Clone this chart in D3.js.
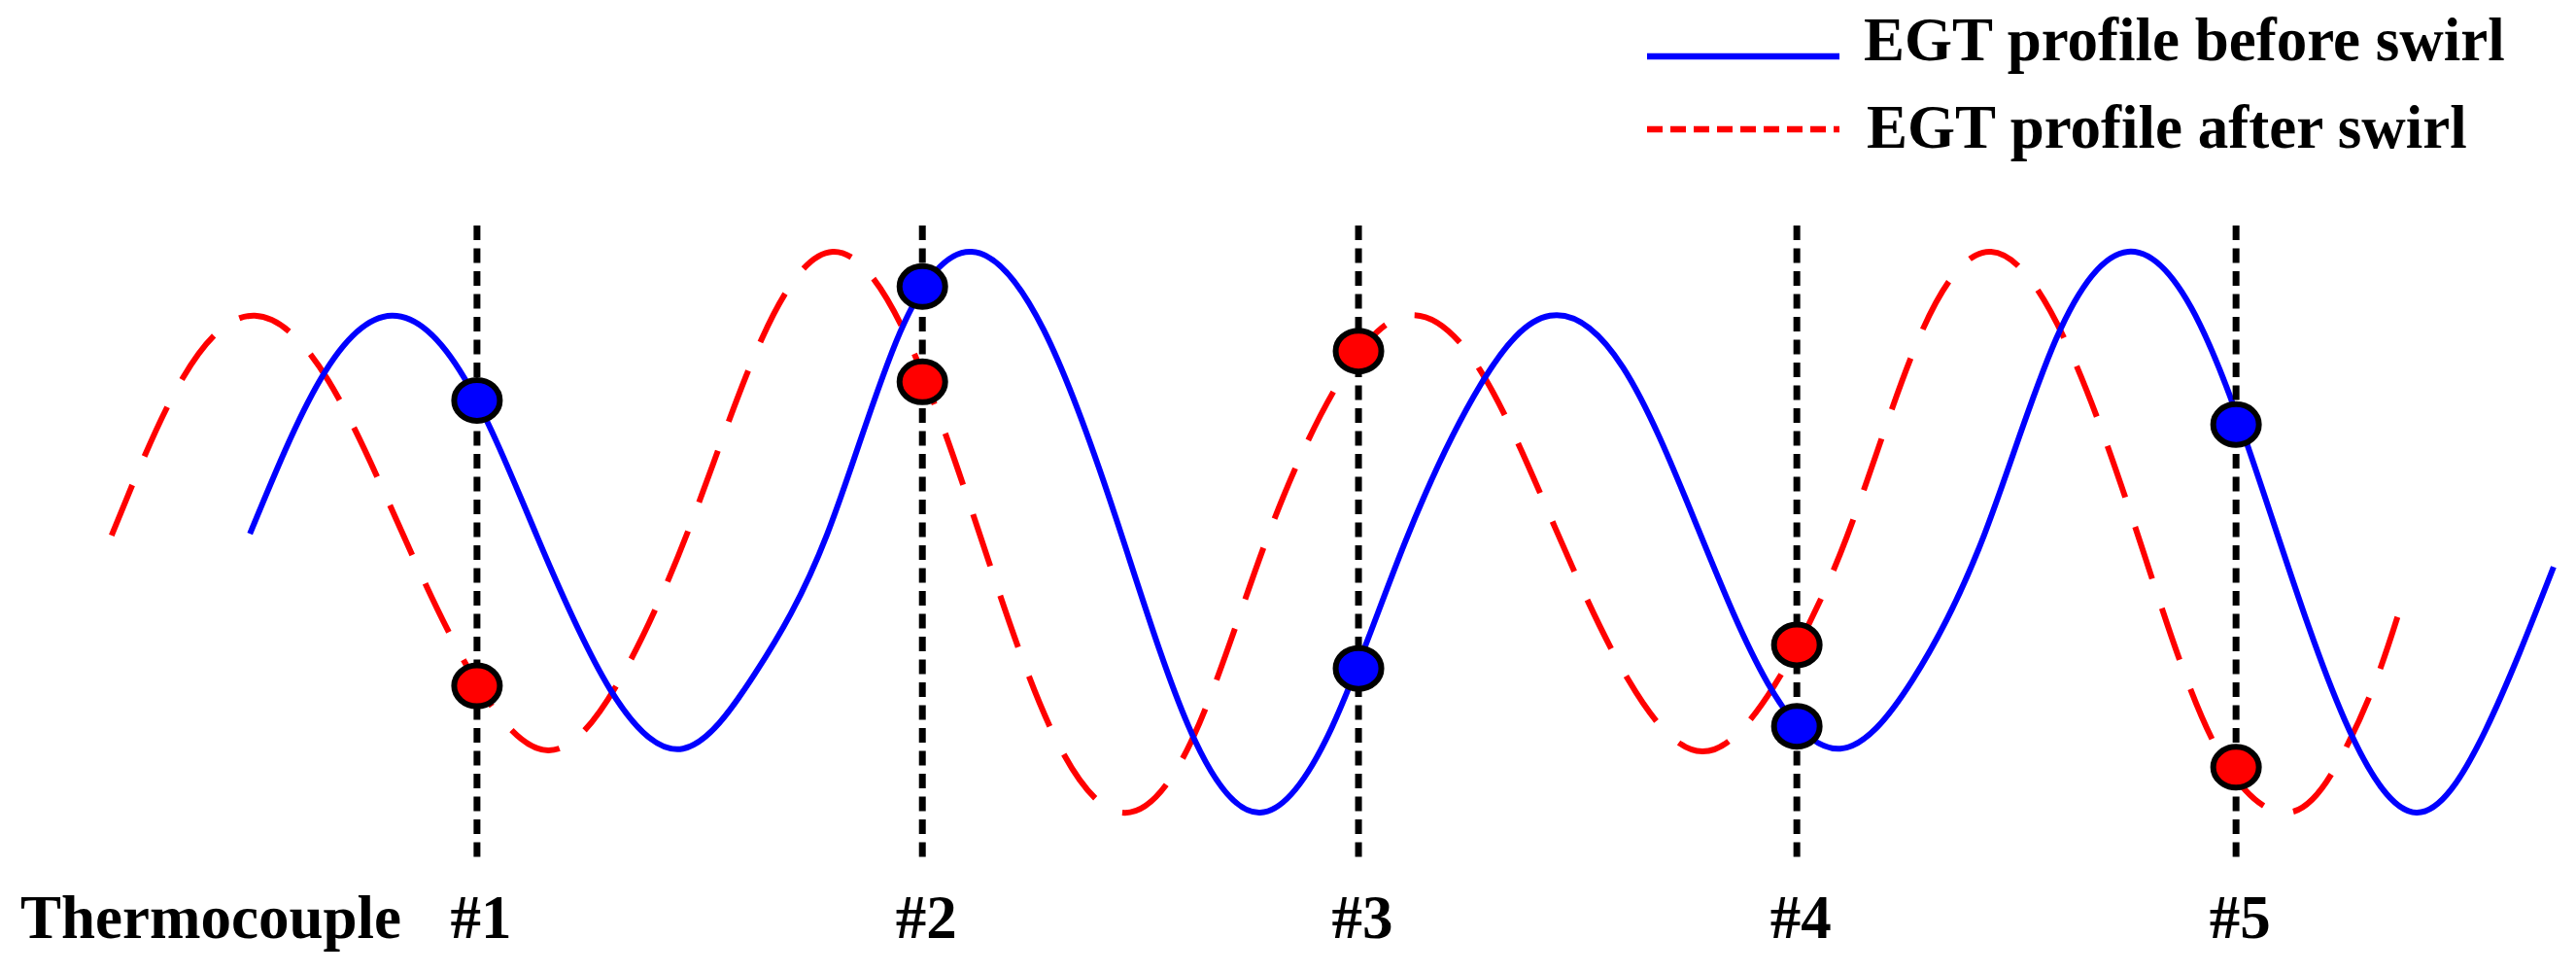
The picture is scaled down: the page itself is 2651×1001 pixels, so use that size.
<!DOCTYPE html>
<html>
<head>
<meta charset="utf-8">
<script src="https://cdn.jsdelivr.net/npm/d3@7"></script>
<style>
  body { margin: 0; background: #fff; }
  text { font-family: "Liberation Serif", "Times New Roman", serif; font-weight: bold; fill: #000; }
</style>
</head>
<body>
<div id="egtChart"></div>
<script>
// thermocouple positions, in units of thermocouple spacing
var tcPos = [0.994, 2.008, 3.001, 3.999, 4.999];
var tcLabels = ["#1", "#2", "#3", "#4", "#5"];

// EGT seen by each thermocouple (0 = coolest trough, 100 = hottest peak)
var tcBefore = [73.5, 93.8, 25.7, 15.4, 69.2];
var tcAfter = [22.6, 76.8, 82.3, 29.9, 8.1];

var seriesNames = ["EGT profile before swirl", "EGT profile after swirl"];

// profile points: [position, EGT]
var profileBefore = [
  [0.477, 49.7], [0.638, 77.3], [0.800, 88.6], [0.965, 77.5], [1.131, 49.2],
  [1.297, 22.0], [1.463, 11.4], [1.627, 24.8], [1.791, 49.6], [1.957, 85.6],
  [2.120, 100], [2.284, 86.1], [2.448, 52.7], [2.614, 15.4], [2.777, 0],
  [2.941, 15.3], [3.107, 48.2], [3.279, 76.3], [3.437, 88.6], [3.603, 79.4],
  [3.769, 51.6], [3.932, 23.2], [4.098, 11.4], [4.262, 23.6], [4.426, 49.6],
  [4.589, 84.4], [4.753, 100], [4.917, 87.0], [5.080, 52.7], [5.246, 16.6],
  [5.410, 0], [5.567, 14.7], [5.722, 43.8]
];

var profileAfter = [
  [0.162, 49.4], [0.325, 77.6], [0.488, 88.6], [0.655, 77.1], [0.822, 50.2],
  [0.989, 23.7], [1.156, 11.1], [1.317, 23.4], [1.480, 51.3], [1.642, 84.4],
  [1.804, 100], [1.969, 85.4], [2.134, 50.7], [2.298, 15.4], [2.463, 0],
  [2.625, 13.5], [2.786, 47.5], [2.948, 75.6], [3.109, 88.6], [3.277, 79.0],
  [3.447, 51.1], [3.616, 23.6], [3.784, 10.9], [3.948, 22.7], [4.113, 49.2],
  [4.277, 84.6], [4.441, 100], [4.610, 84.2], [4.780, 48.4], [4.949, 12.4],
  [5.118, 0], [5.238, 9.9], [5.319, 23.9], [5.381, 38.5]
];

var width = 2651,
    height = 1001,
    lineTop = 232,
    lineBottom = 885,
    labelY = 965,
    fontSize = 63;

var blue = "#0000ff",
    red = "#ff0000";

var svg = d3.select("#egtChart")
  .append("svg")
    .attr("width", width)
    .attr("height", height);

var x = d3.scaleLinear()
    .domain([0, 6])
    .range([41.6, 2753.6]);

var y = d3.scaleLinear()
    .domain([0, 100])
    .range([836, 259]);

var line = d3.line()
    .x(function(d) { return x(d[0]); })
    .y(function(d) { return y(d[1]); })
    .curve(d3.curveNatural);

// profiles
svg.append("path")
    .datum(profileAfter)
    .attr("d", line)
    .attr("fill", "none")
    .attr("stroke", red)
    .attr("stroke-width", 6)
    .attr("stroke-dasharray", "56,32");

svg.append("path")
    .datum(profileBefore)
    .attr("d", line)
    .attr("fill", "none")
    .attr("stroke", blue)
    .attr("stroke-width", 6);

// thermocouple lines
svg.selectAll(".tcLine")
    .data(tcPos)
    .enter()
    .append("line")
      .attr("class", "tcLine")
      .attr("x1", function(d) { return x(d); })
      .attr("x2", function(d) { return x(d); })
      .attr("y1", lineTop)
      .attr("y2", lineBottom)
      .attr("stroke", "#000")
      .attr("stroke-width", 7)
      .attr("stroke-dasharray", "15,8.5");

// thermocouple readings
function drawReadings(values, color) {
  svg.selectAll(null)
      .data(values)
      .enter()
      .append("ellipse")
        .attr("cx", function(d, i) { return x(tcPos[i]); })
        .attr("cy", function(d) { return y(d); })
        .attr("rx", 23.5)
        .attr("ry", 21)
        .attr("fill", color)
        .attr("stroke", "#000")
        .attr("stroke-width", 6);
}
drawReadings(tcBefore, blue);
drawReadings(tcAfter, red);

// labels
svg.append("text")
    .attr("x", 21)
    .attr("y", labelY)
    .style("font-size", fontSize + "px")
    .text("Thermocouple");

svg.selectAll(".tcLabel")
    .data(tcLabels)
    .enter()
    .append("text")
      .attr("class", "tcLabel")
      .attr("x", function(d, i) { return x(tcPos[i]) + 4; })
      .attr("y", labelY)
      .attr("text-anchor", "middle")
      .style("font-size", fontSize + "px")
      .text(function(d) { return d; });

// legend
var legend = svg.append("g");
var legendRows = [
  {name: seriesNames[0], color: blue, dash: null, y: 58, textY: 62, textX: 1918},
  {name: seriesNames[1], color: red, dash: "16,8", y: 133, textY: 152, textX: 1921}
];

legend.selectAll("line")
    .data(legendRows)
    .enter()
    .append("line")
      .attr("x1", 1695)
      .attr("x2", 1893)
      .attr("y1", function(d) { return d.y; })
      .attr("y2", function(d) { return d.y; })
      .attr("stroke", function(d) { return d.color; })
      .attr("stroke-width", 6.5)
      .attr("stroke-dasharray", function(d) { return d.dash; });

legend.selectAll("text")
    .data(legendRows)
    .enter()
    .append("text")
      .attr("x", function(d) { return d.textX; })
      .attr("y", function(d) { return d.textY; })
      .style("font-size", fontSize + "px")
      .text(function(d) { return d.name; });
</script>
</body>
</html>
